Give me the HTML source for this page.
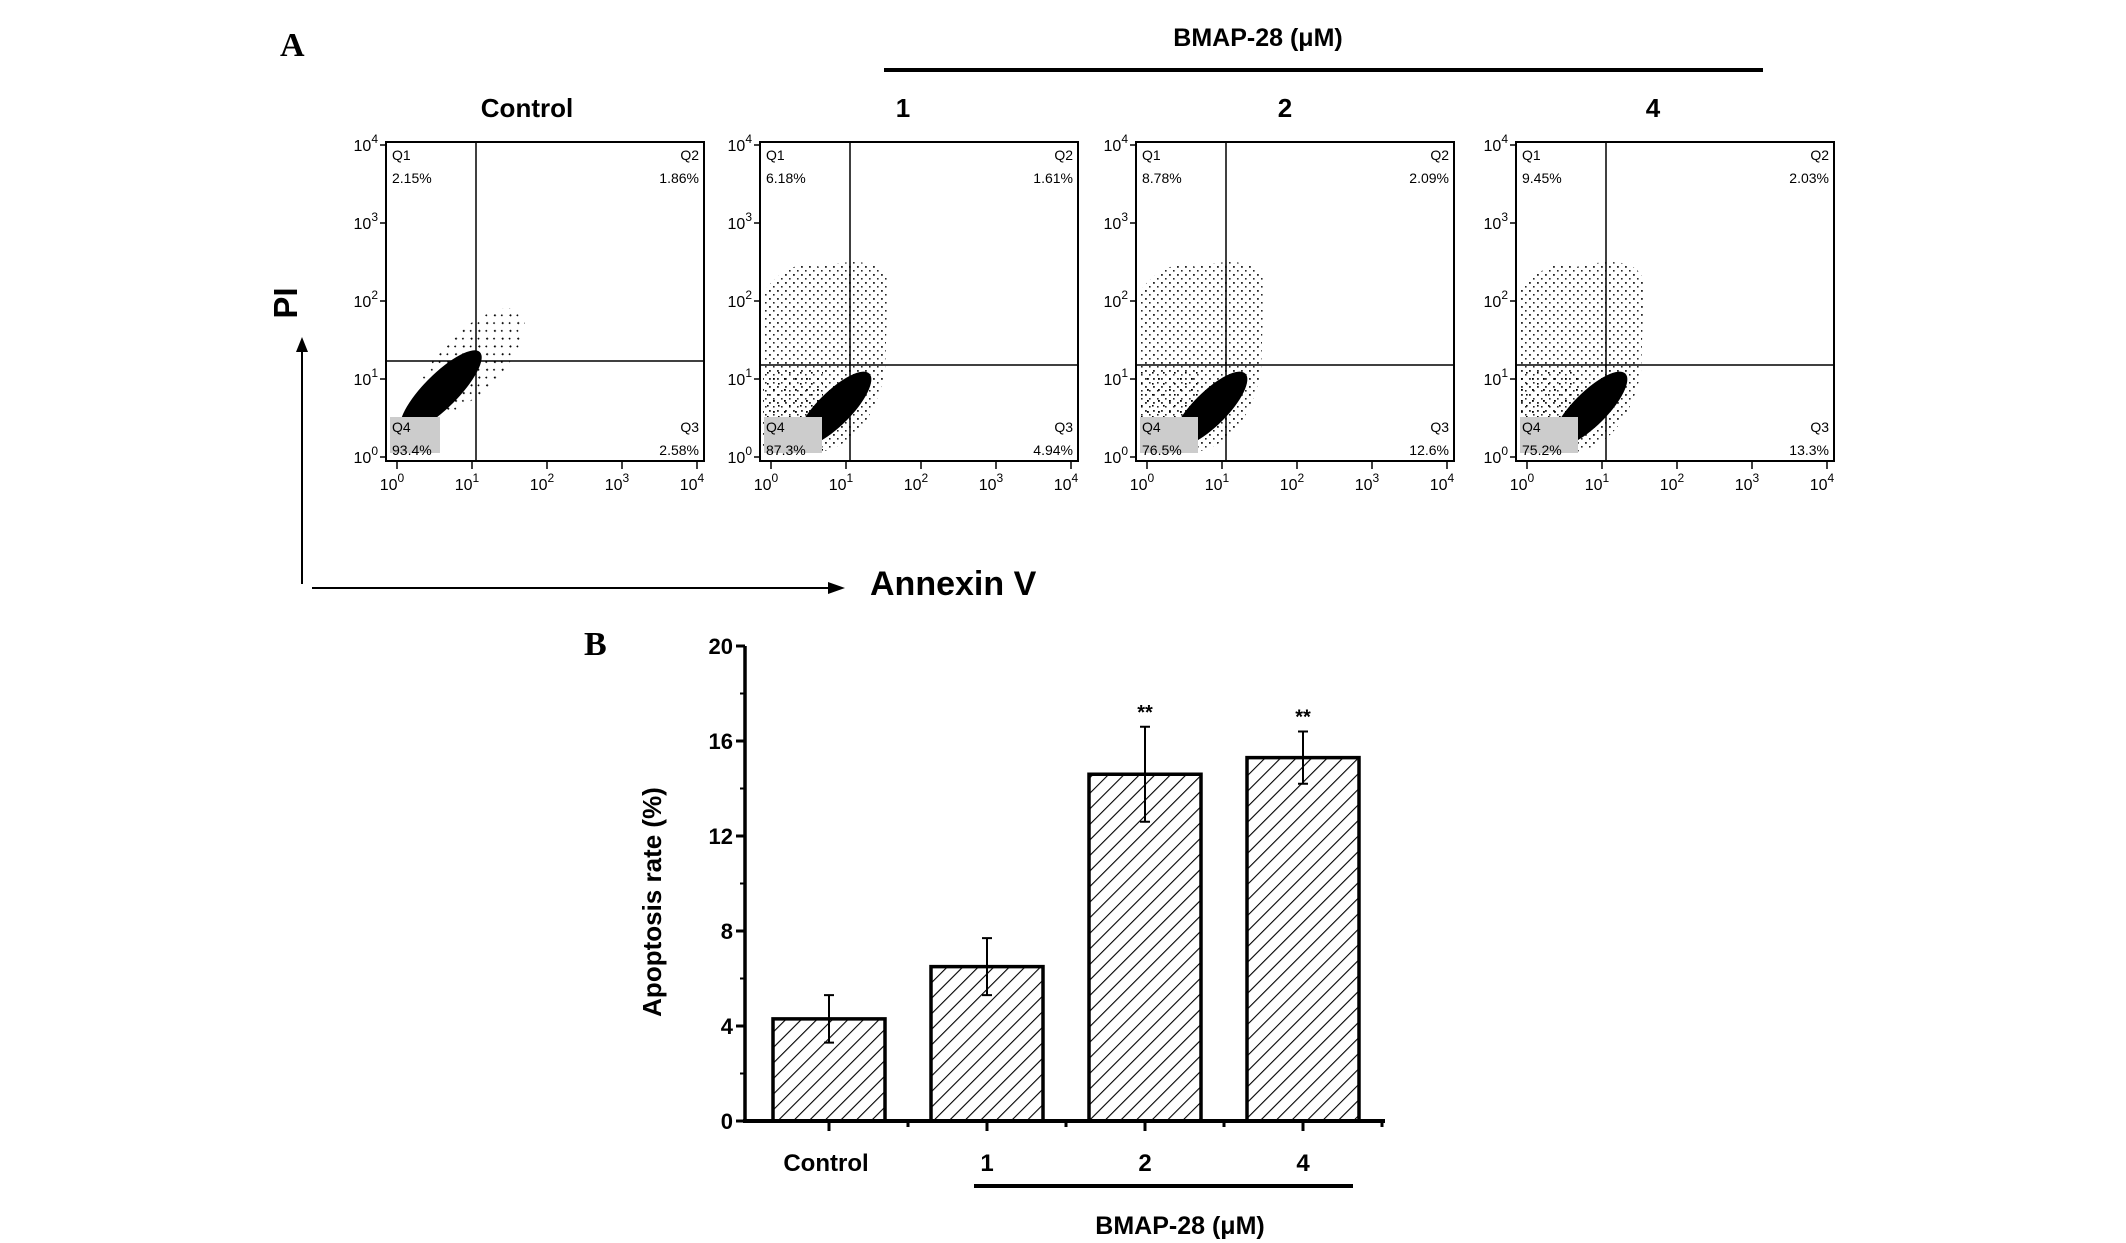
<!DOCTYPE html>
<html><head><meta charset="utf-8"><style>
body{margin:0;background:#fff;}
svg{display:block;font-family:"Liberation Sans",Arial,sans-serif;}
</style></head><body>
<svg id="fig" width="2126" height="1243" viewBox="0 0 2126 1243">
<defs>
 <pattern id="sparse" width="8" height="8" patternUnits="userSpaceOnUse">
  <rect x="1" y="2" width="1.8" height="1.8" fill="#000"/>
  <rect x="5" y="6" width="1.6" height="1.6" fill="#000"/>
 </pattern>
 <pattern id="sparse2" width="11" height="11" patternUnits="userSpaceOnUse">
  <rect x="3" y="4" width="1.8" height="1.8" fill="#000"/>
  <rect x="8" y="9" width="1.6" height="1.6" fill="#000"/>
 </pattern>
 <pattern id="hatch" width="11" height="11" patternUnits="userSpaceOnUse" patternTransform="rotate(45)">
  <rect width="11" height="11" fill="#fff"/>
  <line x1="0" y1="0" x2="0" y2="11" stroke="#000" stroke-width="2.2"/>
 </pattern>
</defs>
<text x="280" y="56" font-family="Liberation Serif,serif" font-weight="bold" font-size="34">A</text>
<text x="1258" y="46" text-anchor="middle" font-weight="bold" font-size="25">BMAP-28 (μM)</text>
<line x1="884" y1="70" x2="1763" y2="70" stroke="#000" stroke-width="4"/>
<g id="panels"></g>
<text x="297" y="303" transform="rotate(-90 297 303)" text-anchor="middle" font-weight="bold" font-size="33">PI</text>
<line x1="302" y1="584" x2="302" y2="350" stroke="#000" stroke-width="2"/>
<polygon points="302,337 296,352 308,352" fill="#000"/>
<line x1="312" y1="588" x2="828" y2="588" stroke="#000" stroke-width="2"/>
<polygon points="845,588 828,582 828,594" fill="#000"/>
<text x="870" y="595" font-weight="bold" font-size="34">Annexin  V</text>

<text x="584" y="655" font-family="Liberation Serif,serif" font-weight="bold" font-size="34">B</text>
<g id="bars"></g>
</svg>
<script>
// Flow cytometry quadrant data
const panelTitles = ["Control", "1", "2", "4"];
const q1Vals = ["2.15%", "6.18%", "8.78%", "9.45%"];
const q2Vals = ["1.86%", "1.61%", "2.09%", "2.03%"];
const q3Vals = ["2.58%", "4.94%", "12.6%", "13.3%"];
const q4Vals = ["93.4%", "87.3%", "76.5%", "75.2%"];

// Bar chart data
const categories = ["Control", "1", "2", "4"];
const rates = [4.3, 6.5, 14.6, 15.3];
const errs = [1.0, 1.2, 2.0, 1.1];
const sigMarks = ["", "", "**", "**"];
const yTicks = [0, 4, 8, 12, 16, 20];

const NS = "http://www.w3.org/2000/svg";
function mk(tag, attrs, parent, txt){
  const e = document.createElementNS(NS, tag);
  for (const k in attrs) e.setAttribute(k, attrs[k]);
  if (txt !== undefined) e.textContent = txt;
  parent.appendChild(e);
  return e;
}

const panels = document.getElementById("panels");
const boxX = [386, 760, 1136, 1516];
const titleX = [527, 903, 1285, 1653];
const BW = 318, BH = 319, BY = 142;
panelTitles.forEach((t, i) => {
  const g = mk("g", {}, panels);
  
  
  const x0 = boxX[i];
  const tt = mk("text", {x: titleX[i], y: 117, "text-anchor": "middle", "font-weight": "bold", "font-size": 26}, g, t);
  
  
  const hx = x0 + 90, hy = BY + (i === 0 ? 219 : 223);
  if (i > 0) {
    const s = mk("path", {d: `M${x0+3} ${BY+150} Q${x0+30} ${BY+115} ${x0+60} ${BY+125} Q${x0+120} ${BY+110} ${x0+128} ${BY+140} L${x0+125} ${BY+230} Q${x0+110} ${BY+300} ${x0+60} ${BY+310} L${x0+3} ${BY+310} Z`, fill: "url(#sparse)", opacity: 0.85}, g);
    
    
    const s2 = mk("rect", {x: x0 + 3, y: BY + 230, width: 60, height: 80, fill: "url(#sparse2)"}, g);
    
    
  } else {
    const s = mk("ellipse", {cx: x0 + 85, cy: BY + 220, rx: 70, ry: 30, transform: `rotate(-45 ${x0+85} ${BY+220})`, fill: "url(#sparse2)"}, g);
    
    
  }
  const cx = x0 + (i === 0 ? 55 : 74), cy = BY + (i === 0 ? 249 : 267);
  const cl = mk("ellipse", {cx: cx, cy: cy, rx: i === 0 ? 55 : 50, ry: 17, transform: `rotate(-45 ${cx} ${cy})`, fill: "#000"}, g);
  
  
  const gr = mk("rect", {x: x0 + 4, y: BY + 275, width: i === 0 ? 50 : 58, height: 36, fill: "#ccc"}, g);
  
  
  const box = mk("rect", {x: x0, y: BY, width: BW, height: BH, fill: "none", stroke: "#000", "stroke-width": 2}, g);
  
  
  const vl = mk("line", {x1: hx, y1: BY, x2: hx, y2: BY + BH, stroke: "#000", "stroke-width": 1.5}, g);
  
  
  const hl = mk("line", {x1: x0, y1: hy, x2: x0 + BW, y2: hy, stroke: "#000", "stroke-width": 1.5}, g);
  
  
  const lab = [["Q1", q1Vals[i], x0 + 6, BY + 18, "start"], ["Q2", q2Vals[i], x0 + BW - 5, BY + 18, "end"],
               ["Q4", q4Vals[i], x0 + 6, BY + 290, "start"], ["Q3", q3Vals[i], x0 + BW - 5, BY + 290, "end"]];
  lab.forEach(l => {
    const a = mk("text", {x: l[2], y: l[3], "font-size": 14, "text-anchor": l[4]}, g, l[0]);
    
    
    const b = mk("text", {x: l[2], y: l[3] + 23, "font-size": 14, "text-anchor": l[4]}, g, l[1]);
    
    
  });
  for (let d = 0; d <= 4; d++) {
    const ty = BY + BH - 4 - d * 78;
    const yl = mk("text", {x: x0 - 8, y: ty + 6, "font-size": 16, "text-anchor": "end"}, g);
    yl.innerHTML = '10<tspan dy="-8" font-size="12">' + d + '</tspan>';
    
    
    const tx = x0 + 11 + d * 75;
    const xl = mk("text", {x: tx - 5, y: BY + BH + 29, "font-size": 16, "text-anchor": "middle"}, g);
    xl.innerHTML = '10<tspan dy="-8" font-size="12">' + d + '</tspan>';
    
    
    const tk = mk("line", {x1: tx, y1: BY + BH, x2: tx, y2: BY + BH + 8, stroke: "#000", "stroke-width": 1.5}, g);
    
    
    const tk2 = mk("line", {x1: x0, y1: ty, x2: x0 - 6, y2: ty, stroke: "#000", "stroke-width": 1.5}, g);
    
    
  }
});

// Bar chart
const bars = document.getElementById("bars");
const AX = 745, AY0 = 1121, AY1 = 646, AXR = 1385;
const yS = v => AY0 - (v - 0) / 20 * (AY0 - AY1);
const centers = i => 829 + i * 158;
const BWD = 112;
rates.forEach((v, i) => {
  const c = centers(i);
  const r = mk("rect", {x: c - BWD / 2, y: yS(v), width: BWD, height: AY0 - yS(v), fill: "url(#hatch)", stroke: "#000", "stroke-width": 3.5}, bars);
  
  
  const eb = mk("path", {d: `M${c} ${yS(v - errs[i])} L${c} ${yS(v + errs[i])} M${c - 5} ${yS(v + errs[i])} L${c + 5} ${yS(v + errs[i])} M${c - 5} ${yS(v - errs[i])} L${c + 5} ${yS(v - errs[i])}`, stroke: "#000", "stroke-width": 2, fill: "none"}, bars);
  
  
  if (sigMarks[i]) {
    const s = mk("text", {x: c, y: yS(v + errs[i]) - 8, "text-anchor": "middle", "font-weight": "bold", "font-size": 20}, bars, sigMarks[i]);
    
    
  }
  const cl = mk("text", {x: c + (i === 0 ? -3 : 0), y: 1171, "text-anchor": "middle", "font-weight": "bold", "font-size": 24}, bars, categories[i]);
  
  
  const tk = mk("line", {x1: c, y1: AY0, x2: c, y2: AY0 + 10, stroke: "#000", "stroke-width": 3}, bars);
  
  
  const mt = mk("line", {x1: c + 79, y1: AY0, x2: c + 79, y2: AY0 + 6, stroke: "#000", "stroke-width": 3}, bars);
  
  
});
yTicks.forEach(t => {
  const y = yS(t);
  const l = mk("line", {x1: AX - 9, y1: y, x2: AX, y2: y, stroke: "#000", "stroke-width": 3}, bars);
  
  
  if (t < 20) {
    const m = mk("line", {x1: AX - 5, y1: yS(t + 2), x2: AX, y2: yS(t + 2), stroke: "#000", "stroke-width": 2}, bars);
    
    
  }
  const tx = mk("text", {x: AX - 12, y: y + 8, "text-anchor": "end", "font-weight": "bold", "font-size": 22}, bars, String(t));
  
  
});
const ya = mk("line", {x1: AX, y1: AY1, x2: AX, y2: AY0 + 2, stroke: "#000", "stroke-width": 3.5}, bars);


const xa = mk("line", {x1: AX - 2, y1: AY0, x2: AXR, y2: AY0, stroke: "#000", "stroke-width": 4}, bars);


const yt = mk("text", {x: 661, y: 902, transform: "rotate(-90 661 902)", "text-anchor": "middle", "font-weight": "bold", "font-size": 26}, bars, "Apoptosis rate (%)");


const br = mk("line", {x1: 974, y1: 1186, x2: 1353, y2: 1186, stroke: "#000", "stroke-width": 4}, bars);


const bt = mk("text", {x: 1180, y: 1234, "text-anchor": "middle", "font-weight": "bold", "font-size": 25}, bars, "BMAP-28 (μM)");


</script>
</body></html>
